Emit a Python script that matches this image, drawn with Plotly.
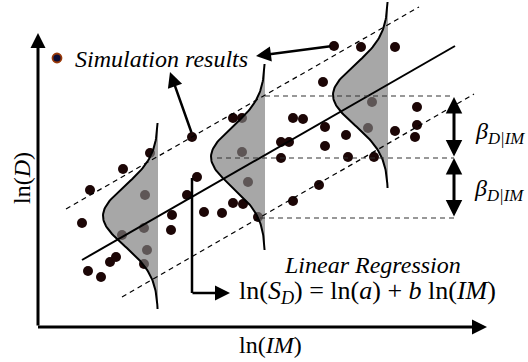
import numpy as np
import plotly.graph_objects as go

W, H = 528, 362
SERIF = "Liberation Serif"

# ---- simulated results (schematic units, y grows downward) ----
sim_x = [123, 150, 192, 197, 233, 242, 242, 293, 303, 281, 289, 281, 323, 334,
         361, 395, 372, 368, 417, 417, 415, 395, 325, 346, 325, 348, 374, 90,
         145, 82, 122, 144, 147, 144, 110, 116, 88, 101, 172, 171, 187, 204,
         222, 233, 243, 248, 258, 293, 319]
sim_y = [169, 153, 137, 177, 118, 118, 152, 118, 119, 142, 142, 158, 82, 46,
         47, 47, 102, 128, 107, 125, 137, 131, 127, 135, 146, 157, 157, 190,
         195, 223, 235, 228, 250, 264, 262, 257, 271, 277, 215, 230, 195, 212,
         213, 203, 204, 182, 217, 201, 185]

# ---- regression line and +/- beta band ----
reg_x = [82, 455]
reg_y = [260, 46]
upper_x = [66, 419]
upper_y = [209, 7]
lower_x = [122, 474]
lower_y = [297, 94]

# ---- conditional distributions (baseline x, mean y, amplitude, sigma) ----
bell_base = [158, 265, 388]
bell_mu = [216, 157, 95]
bell_amp = [55, 54, 55]
bell_sigma = [30, 30, 30]
bell_half = [93, 93, 93]

# ---- horizontal reference dashes (y, x start, x end) ----
hdash_y = [96, 158, 218]
hdash_x0 = [265, 217, 260]
hdash_x1 = [454, 454, 454]

# ---- axes ----
axis_origin = (38, 327)
axis_x_tip = 487
axis_y_tip = 33

fig = go.Figure()

# data points
fig.add_trace(go.Scatter(x=sim_x, y=sim_y, mode="markers",
                         marker=dict(size=10, color="#1c0606",
                                     line=dict(width=0)),
                         hoverinfo="skip"))

# gray filled distributions (drawn over the points, semi-transparent)
for b, mu, a, s, h in zip(bell_base, bell_mu, bell_amp, bell_sigma, bell_half):
    yy = np.linspace(mu - h, mu + h, 120)
    xx = b - a * np.exp(-0.5 * ((yy - mu) / s) ** 2)
    fig.add_trace(go.Scatter(x=list(xx) + [b, b], y=list(yy) + [mu + h, mu - h],
                             mode="lines", fill="toself",
                             fillcolor="rgba(125,125,125,0.68)",
                             line=dict(width=0), hoverinfo="skip"))
    fig.add_trace(go.Scatter(x=xx, y=yy, mode="lines",
                             line=dict(color="black", width=2),
                             hoverinfo="skip"))

# regression and band lines
fig.add_trace(go.Scatter(x=reg_x, y=reg_y, mode="lines",
                         line=dict(color="black", width=2), hoverinfo="skip"))
for lx, ly in ((upper_x, upper_y), (lower_x, lower_y)):
    fig.add_trace(go.Scatter(x=lx, y=ly, mode="lines",
                             line=dict(color="black", width=1.2, dash="5px,4px"),
                             hoverinfo="skip"))
for y, x0, x1 in zip(hdash_y, hdash_x0, hdash_x1):
    fig.add_trace(go.Scatter(x=[x0, x1], y=[y, y], mode="lines",
                             line=dict(color="#333333", width=1.2, dash="5px,4px"),
                             hoverinfo="skip"))

# legend marker
fig.add_trace(go.Scatter(x=[57], y=[58], mode="markers",
                         marker=dict(size=9, color="#0d0d35",
                                     line=dict(color="#9a3a0a", width=1.8)),
                         hoverinfo="skip"))

ann = []


def arrow(x, y, ax, ay, w=2.5, size=1.2, both=False):
    d = dict(x=x, y=y, ax=ax, ay=ay, xref="x", yref="y", axref="x", ayref="y",
             text="", showarrow=True, arrowhead=2, arrowsize=size,
             arrowwidth=w, arrowcolor="black", standoff=0, startstandoff=0)
    if both:
        d.update(arrowside="end+start", startarrowhead=2, startarrowsize=size)
    ann.append(d)


# axes
ox, oy = axis_origin
arrow(ox, axis_y_tip, ox, oy, w=3, size=1)
arrow(axis_x_tip, oy, ox - 1.5, oy, w=3, size=1)

# pointers to "Simulation results"
arrow(256, 56, 332, 46, w=2.5, size=1.2)
arrow(170, 72, 192, 134, w=2.5, size=1.2)

# regression pointer (L-shaped)
fig.add_shape(type="line", x0=192, y0=178, x1=192, y1=293,
              line=dict(color="black", width=2.5))
arrow(230, 293, 191, 293, w=2.5, size=1.2)

# beta arrows
arrow(454, 97, 454, 158, w=3, size=1.1, both=True)
arrow(454, 158, 454, 218, w=3, size=1.1, both=True)


# texts
def text(x, y, t, size=23, xanchor="left", textangle=0):
    ann.append(dict(x=x, y=y, xref="x", yref="y", text=t, showarrow=False,
                    xanchor=xanchor, yanchor="middle", textangle=textangle,
                    font=dict(family=SERIF, size=size, color="black")))


text(73, 59, "<i>Simulation results</i>", size=24)
text(372, 265, "<i>Linear Regression</i>", size=24, xanchor="center")
text(237, 292, "ln(<i>S</i><sub><i>D</i></sub>) = ln(<i>a</i>) + <i>b</i> ln(<i>IM</i>)",
     size=26)
text(270, 345, "ln(<i>IM</i>)", size=24, xanchor="center")
text(22, 178, "ln(<i>D</i>)", size=24, xanchor="center", textangle=-90)
text(473, 133, "<i>β</i><sub><i>D|IM</i></sub>", size=24)
text(472, 190, "<i>β</i><sub><i>D|IM</i></sub>", size=24)

fig.update_layout(
    width=W, height=H, margin=dict(l=0, r=0, t=0, b=0),
    paper_bgcolor="white", plot_bgcolor="white", showlegend=False,
    xaxis=dict(range=[0, W], visible=False, fixedrange=True),
    yaxis=dict(range=[H, 0], visible=False, fixedrange=True),
    annotations=ann,
)

fig.write_html("out.html", config={"displayModeBar": False},
               post_script="document.body.style.margin='0px';"
                           "document.body.style.overflow='hidden';")
